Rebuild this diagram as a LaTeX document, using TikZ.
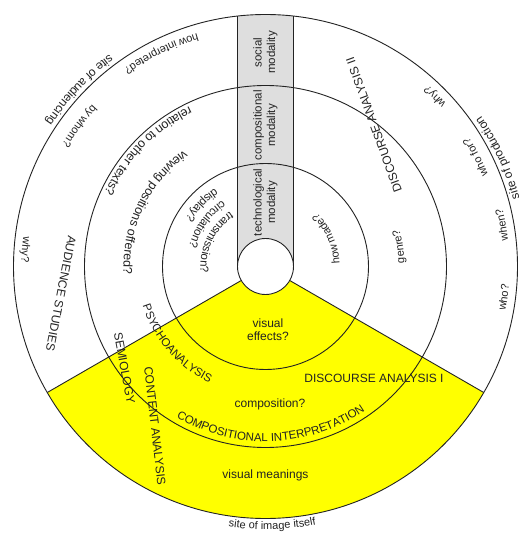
\documentclass[tikz,border=0pt]{standalone}
\usepackage{fontspec}
\setmainfont{Liberation Sans}
\usetikzlibrary{decorations.text}
\definecolor{secyellow}{RGB}{255,255,0}
\definecolor{stripgray}{RGB}{222,222,222}
\definecolor{inkc}{RGB}{35,35,35}
% centred text along a counter-clockwise arc (baseline radius #2, centre angle #1)
\newcommand\ctext[4]{%
  \path[decorate,decoration={text along path,text align=center,
    text={|\fontsize{#3}{#3}\selectfont\color{inkc}|#4}}]
    (#1-50:#2pt) arc[start angle=#1-50,end angle=#1+50,radius=#2pt];}
% left aligned text along a counter-clockwise arc starting at angle #1
\newcommand\ltext[4]{%
  \path[decorate,decoration={text along path,text align=left,
    text={|\fontsize{#3}{#3}\selectfont\color{inkc}|#4}}]
    (#1:#2pt) arc[start angle=#1,end angle=#1+120,radius=#2pt];}
\begin{document}
\begin{tikzpicture}[x=1pt,y=1pt,
  ring/.style={draw=inkc,line width=0.9pt},
  lab/.style={font=\fontsize{12}{13}\selectfont,text=inkc,inner sep=0pt,align=center},
  striplab/.style={lab,rotate=90,font=\fontsize{11.5}{13.5}\selectfont}]
\useasboundingbox (-265.5,-266.5) rectangle (255.5,266.5);
\fill[white] (-265.5,-266.5) rectangle (255.5,266.5);
% yellow sector (site of the image itself)
\fill[secyellow] (210:28pt) -- (210:252pt) arc[start angle=210,end angle=330,radius=252pt]
  -- (330:28pt) arc[start angle=330,end angle=210,radius=28pt] -- cycle;
% grey modality strip
\fill[stripgray] (-28,0) -- (96.38:252pt) arc[start angle=96.38,end angle=83.62,radius=252pt]
  -- (28,0) -- cycle;
% rings
\draw[ring] (0,0) circle[radius=252pt];
\draw[ring] (0,0) circle[radius=181pt];
\draw[ring] (0,0) circle[radius=103pt];
% strip borders and sector borders
\coordinate (sl0) at (-28,0); \coordinate (sl1) at (96.38:252pt);
\coordinate (sr0) at (28,0);  \coordinate (sr1) at (83.62:252pt);
\draw[ring] (sl0) -- (sl1);
\draw[ring] (sr0) -- (sr1);
\coordinate (al0) at (210:28pt); \coordinate (al1) at (210:252pt);
\coordinate (ar0) at (330:28pt); \coordinate (ar1) at (330:252pt);
\draw[ring] (al0) -- (al1);
\draw[ring] (ar0) -- (ar1);
% centre circle
\node[circle,fill=white,draw=inkc,line width=0.9pt,minimum size=56pt,inner sep=0pt] (hub) at (0,0) {};
% strip labels
\node[striplab] (tech) at (0,64) {technological\\modality};
\node[striplab] (comp) at (0,141) {compositional\\modality};
\node[striplab] (soc) at (0,214) {social\\modality};
% yellow sector labels
\node[lab] (veff) at (2.5,-63.5) {visual\\effects?};
\node[lab] (compq) at (4.5,-137.5) {composition?};
\node[lab] (vmean) at (0,-208.5) {visual meanings};
\node[lab] (da1) at (108.5,-111.5) {DISCOURSE ANALYSIS I};
\node[lab,rotate=-79.5] (semio) at (-141,-101.5) {SEMIOLOGY};
\node[lab,rotate=-83.5] (content) at (-110.5,-159.5) {CONTENT ANALYSIS};
\node[lab,rotate=-101] (aud) at (-204.5,-27) {AUDIENCE STUDIES};
\node[lab,rotate=110] (da2) at (108.5,141.5) {DISCOURSE ANALYSIS II};
% curved labels
\ctext{221}{129}{11.5}{PSYCHOANALYSIS}
\ctext{272}{175}{11.5}{COMPOSITIONAL INTERPRETATION}
\ctext{116}{243}{11}{how interpreted?}
\ctext{143}{237}{11}{by whom?}
\ctext{176}{244}{11}{why?}
\ctext{45}{243}{11}{why?}
\ctext{27.5}{241}{11}{who for?}
\ctext{10}{244}{11}{when?}
\ctext{-7.4}{244}{11}{who?}
\ctext{135.5}{177}{12.5}{relation to other texts?}
\ctext{154}{142}{12.5}{viewing positions offered?}
\ctext{24}{74}{11}{how made?}
\ctext{8.5}{139}{11}{genre?}
\ltext{123}{93}{11.5}{display?}
\ltext{123}{79}{11.5}{circulation?}
\ltext{123}{65}{11.5}{transmission?}
% site labels outside the circle
\ctext{136.5}{263}{12}{site of audiencing}
\ctext{25}{263}{12}{site of production}
\ctext{271.5}{263}{11}{site of image itself}
\end{tikzpicture}
\end{document}
